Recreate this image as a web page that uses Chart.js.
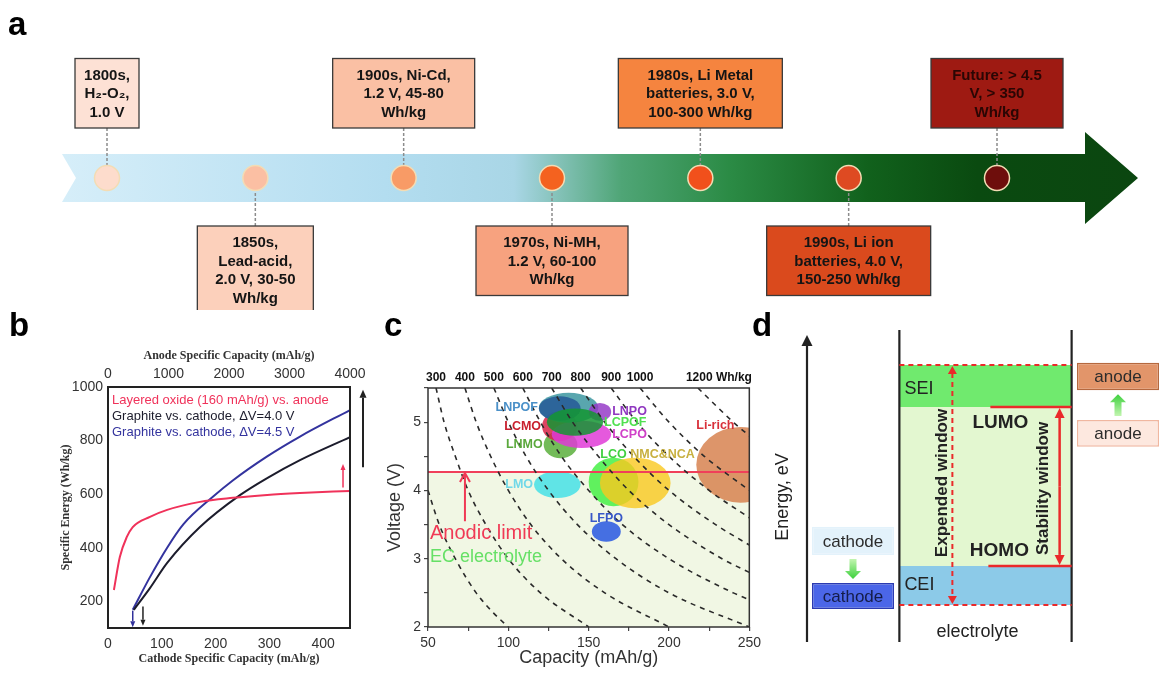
<!DOCTYPE html>
<html lang="en">
<head>
<meta charset="utf-8">
<title>Battery development overview</title>
<script src="https://cdn.jsdelivr.net/npm/chart.js@4.4.1/dist/chart.umd.min.js"></script>
<style>
  html, body { margin: 0; padding: 0; background: #fff; }
  body { position: relative; width: 1164px; height: 675px; overflow: hidden; }
  canvas { position: absolute; }
  .tag { position: absolute; font: bold 33px/33px "Liberation Sans", Arial, sans-serif; color: #000; }
</style>
</head>
<body>
<canvas id="chartA" width="1164" height="310" style="left:0;top:0"></canvas>
<canvas id="chartB" width="380" height="365" style="left:0;top:310px"></canvas>
<canvas id="chartC" width="385" height="365" style="left:380px;top:310px"></canvas>
<canvas id="chartD" width="399" height="365" style="left:765px;top:310px"></canvas>
<div class="tag" style="left:8px;top:7px">a</div>
<div class="tag" style="left:9px;top:308px">b</div>
<div class="tag" style="left:384px;top:308px">c</div>
<div class="tag" style="left:752px;top:308px">d</div>
<script>
const SANS = '"Liberation Sans", Arial, sans-serif';
const SERIF = '"Liberation Serif", "Times New Roman", serif';

// ---------- panel a : timeline data ----------
const eras = ['1800s', '1850s', '1900s', '1970s', '1980s', '1990s', 'Future'];
const eraNotes = [
  ['1800s,', 'H₂-O₂,', '1.0 V'],
  ['1850s,', 'Lead-acid,', '2.0 V, 30-50', 'Wh/kg'],
  ['1900s, Ni-Cd,', '1.2 V, 45-80', 'Wh/kg'],
  ['1970s, Ni-MH,', '1.2 V, 60-100', 'Wh/kg'],
  ['1980s, Li Metal', 'batteries, 3.0 V,', '100-300 Wh/kg'],
  ['1990s, Li ion', 'batteries, 4.0 V,', '150-250 Wh/kg'],
  ['Future: > 4.5', 'V, > 350', 'Wh/kg']
];
const eraLevel = [0, 0, 0, 0, 0, 0, 0]; // every milestone sits on the arrow

// ---------- panel b : specific energy data ----------
const layeredCap = [11, 22, 35, 46, 78, 110, 171, 232, 296, 357, 450];
const layeredEnergy = [242, 365, 440, 477, 515, 541, 571, 586, 597, 604, 612];
const graphite40Cap = [48, 78, 110, 171, 246, 296, 357, 450];
const graphite40Energy = [168, 249, 343, 477, 597, 660, 727, 813];
const graphite45Cap = [46, 78, 110, 140, 195, 232, 296, 357, 450];
const graphite45Energy = [168, 290, 400, 487, 590, 651, 741, 815, 914];
const dropArrows = [[46, 165, 103], [65, 180, 108], [437, 625, 712]]; // [capacity, from, to]
const bigArrow = [700, 990];

// ---------- panel c : cathode map data ----------
const contourEnergy = [200, 300, 400, 500, 600, 700, 800, 900, 1000, 1200];
const contourCap = [
  [50, 57, 67, 80, 91, 100],
  [55, 60, 67, 75, 86, 100, 120, 150],
  [73, 80, 89, 100, 114, 133, 160, 200],
  [91, 100, 111, 125, 143, 167, 200, 250],
  [109, 120, 133, 150, 171, 200, 240, 250],
  [127, 140, 156, 175, 200, 233, 250],
  [145, 160, 178, 200, 229, 250],
  [164, 180, 200, 225, 250],
  [182, 200, 222, 250],
  [218, 240, 250]
];
const contourVolt = [
  [4.0, 3.5, 3.0, 2.5, 2.2, 2.0],
  [5.5, 5.0, 4.5, 4.0, 3.5, 3.0, 2.5, 2.0],
  [5.5, 5.0, 4.5, 4.0, 3.5, 3.0, 2.5, 2.0],
  [5.5, 5.0, 4.5, 4.0, 3.5, 3.0, 2.5, 2.0],
  [5.5, 5.0, 4.5, 4.0, 3.5, 3.0, 2.5, 2.4],
  [5.5, 5.0, 4.5, 4.0, 3.5, 3.0, 2.8],
  [5.5, 5.0, 4.5, 4.0, 3.5, 3.2],
  [5.5, 5.0, 4.5, 4.0, 3.6],
  [5.5, 5.0, 4.5, 4.0],
  [5.5, 5.0, 4.8]
];
const materials = ['LMO', 'LFPO', 'LCO', 'NMC&NCA', 'Li-rich', 'LNMO', 'LCMO', 'LCPO', 'LNPOF', '', 'LNPO', 'LCPOF'];
const capMin = [116, 152, 150, 157, 217, 122, 121, 127, 119, 119, 150, 124];
const capMax = [145, 170, 181, 201, 272, 143, 143, 164, 156, 145, 164, 159];
const voltMin = [3.89, 3.25, 3.77, 3.74, 3.82, 4.47, 4.72, 4.62, 4.99, 5.02, 5.02, 4.80];
const voltMax = [4.28, 3.55, 4.48, 4.48, 4.93, 4.87, 5.16, 5.02, 5.43, 5.38, 5.28, 5.20];
const anodicLimit = 4.27;
const anodicArrow = [73, 3.55]; // capacity, start voltage

// ---------- panel d : energy levels ----------
const dColumns = ['cathode', 'electrolyte', 'anode'];
const electrodeBefore = [[2.74, 3.65], null, [6.23, 7.10]];
const electrodeAfter = [[1.0, 1.84], null, [8.06, 8.94]];
const seiLayer = [null, [7.52, 8.87], null];
const stableWindow = [null, [2.39, 7.52], null];
const ceiLayer = [null, [1.13, 2.39], null];

// ---------- styles ----------
const dotColors = ['#fddccc', '#fbbfa3', '#f89b66', '#f4621f', '#f1501c', '#de4a22', '#6e0e0c'];
const boxColors = ['#fde1d5', '#fcd0bb', '#fac0a4', '#f7a27f', '#f5843f', '#da4a1d', '#9e1a12'];
const boxWidths = [64, 116, 142, 152, 164, 164, 132];
const arrowStops = [[0, '#d6eef9'], [0.3, '#b3ddf0'], [0.42, '#a9d6e6'], [0.52, '#4fa576'],
  [0.62, '#2b8b45'], [0.75, '#11611c'], [0.85, '#0a4a10'], [1, '#0b4610']];
const matFill = ['rgba(70,225,230,0.85)', 'rgba(50,95,225,0.9)', 'rgba(70,240,70,0.85)', 'rgba(250,200,30,0.8)',
  'rgba(215,130,80,0.85)', 'rgba(90,175,60,0.85)', 'rgba(215,35,70,0.85)', 'rgba(225,60,215,0.85)',
  'rgba(60,150,160,0.85)', 'rgba(35,85,150,0.8)', 'rgba(150,60,200,0.85)', 'rgba(20,150,50,0.85)'];
const matText = ['#70d8e8', '#3858c8', '#40d040', '#c8b040', '#d8303a', '#5aa83c', '#c8202e', '#d040c8',
  '#4a90c8', '', '#9038c0', '#50e050'];
const matLabelPos = ['left', 'top', 'top', 'topright', 'topleft', 'left', 'left', 'right', 'left', 'none', 'right', 'right'];

Chart.defaults.font.family = SANS;
Chart.defaults.font.size = 14;
Chart.defaults.color = '#333';
Chart.defaults.animation = false;
Chart.defaults.plugins.legend.display = false;
Chart.defaults.plugins.tooltip.enabled = false;

function drawArrow(ctx, x, y0, y1, color, lw, hw, hl) {
  const dir = y1 < y0 ? -1 : 1;
  ctx.strokeStyle = color;
  ctx.fillStyle = color;
  ctx.lineWidth = lw;
  ctx.beginPath();
  ctx.moveTo(x, y0);
  ctx.lineTo(x, y1 - dir * hl);
  ctx.stroke();
  ctx.beginPath();
  ctx.moveTo(x, y1);
  ctx.lineTo(x - hw, y1 - dir * hl);
  ctx.lineTo(x + hw, y1 - dir * hl);
  ctx.closePath();
  ctx.fill();
}

function rotatedText(ctx, text, x, y) {
  ctx.save();
  ctx.translate(x, y);
  ctx.rotate(-Math.PI / 2);
  ctx.fillText(text, 0, 0);
  ctx.restore();
}

// ---------- panel a ----------
const timelinePlugin = {
  id: 'timeline',
  beforeDatasetsDraw(chart) {
    const { ctx, chartArea: a, scales: { y } } = chart;
    const cy = y.getPixelForValue(0);
    const x0 = a.left - 45, x1 = a.right + 88, tip = a.right + 141;
    const g = ctx.createLinearGradient(x0, 0, tip, 0);
    arrowStops.forEach(([p, c]) => g.addColorStop(p, c));
    ctx.save();
    ctx.beginPath();
    ctx.moveTo(x0, cy - 24);
    ctx.lineTo(x1, cy - 24);
    ctx.lineTo(x1, cy - 46);
    ctx.lineTo(tip, cy);
    ctx.lineTo(x1, cy + 46);
    ctx.lineTo(x1, cy + 24);
    ctx.lineTo(x0, cy + 24);
    ctx.lineTo(x0 + 14, cy);
    ctx.closePath();
    ctx.fillStyle = g;
    ctx.fill();

    ctx.font = 'bold 15px ' + SANS;
    ctx.textAlign = 'center';
    ctx.textBaseline = 'middle';
    chart.getDatasetMeta(0).data.forEach((pt, i) => {
      const up = i % 2 === 0;
      const lines = eraNotes[i];
      const w = boxWidths[i], h = 14 + lines.length * 18.5;
      const bx = pt.x - w / 2;
      const by = up ? pt.y - 50 - h : pt.y + 48;
      ctx.setLineDash([3, 2]);
      ctx.strokeStyle = '#8c8c8c';
      ctx.lineWidth = 1.5;
      ctx.beginPath();
      ctx.moveTo(pt.x, up ? by + h : by);
      ctx.lineTo(pt.x, pt.y);
      ctx.stroke();
      ctx.setLineDash([]);
      ctx.fillStyle = boxColors[i];
      ctx.fillRect(bx, by, w, h);
      ctx.strokeStyle = '#3a3a3a';
      ctx.lineWidth = 1.3;
      ctx.strokeRect(bx, by, w, h);
      ctx.fillStyle = i === 6 ? '#2a0604' : '#151515';
      lines.forEach((t, k) => ctx.fillText(t, pt.x, by + 8 + 18.5 * (k + 0.5)));
    });
    ctx.restore();
  }
};

new Chart(document.getElementById('chartA'), {
  type: 'line',
  data: {
    labels: eras,
    datasets: [{
      data: eraLevel,
      showLine: false,
      pointRadius: 12.5,
      pointBackgroundColor: dotColors,
      pointBorderColor: '#f3dcb4',
      pointBorderWidth: 1.5,
      clip: false
    }]
  },
  options: {
    responsive: false,
    layout: { padding: { left: 107, right: 167, top: 60, bottom: 10 } },
    scales: { x: { display: false }, y: { display: false, min: -1, max: 1 } }
  },
  plugins: [timelinePlugin]
});

// ---------- panel b ----------
const panelBPlugin = {
  id: 'panelB',
  afterDatasetsDraw(chart) {
    const { ctx, chartArea: a, scales: { x, y } } = chart;
    ctx.save();
    ctx.strokeStyle = '#222';
    ctx.lineWidth = 2;
    ctx.strokeRect(a.left, a.top, a.right - a.left, a.bottom - a.top);
    ctx.font = '13px ' + SANS;
    ctx.textBaseline = 'middle';
    chart.data.datasets.forEach((ds, i) => {
      ctx.fillStyle = ds.borderColor;
      ctx.fillText(ds.label, a.left + 4, a.top + 13 + i * 16);
    });
    const arrowColors = ['#30309a', '#222', '#f0325a'];
    dropArrows.forEach(([c, from, to], i) => {
      drawArrow(ctx, x.getPixelForValue(c), y.getPixelForValue(from), y.getPixelForValue(to), arrowColors[i], 1.5, 2.5, 6);
    });
    drawArrow(ctx, a.right + 13, y.getPixelForValue(bigArrow[0]), y.getPixelForValue(bigArrow[1]), '#222', 2, 3.5, 8);
    ctx.restore();
  }
};

const serifTitle = { family: SERIF, weight: 'bold', size: 12 };
new Chart(document.getElementById('chartB'), {
  type: 'line',
  data: {
    datasets: [
      { label: 'Layered oxide (160 mAh/g) vs. anode', data: layeredCap.map((c, i) => ({ x: c, y: layeredEnergy[i] })), borderColor: '#f0325a' },
      { label: 'Graphite vs. cathode, ΔV=4.0 V', data: graphite40Cap.map((c, i) => ({ x: c, y: graphite40Energy[i] })), borderColor: '#1c1c2c' },
      { label: 'Graphite vs. cathode, ΔV=4.5 V', data: graphite45Cap.map((c, i) => ({ x: c, y: graphite45Energy[i] })), borderColor: '#33339e' }
    ]
  },
  options: {
    responsive: false,
    layout: { padding: { left: 55, right: 30, top: 35, bottom: 5 } },
    elements: { point: { radius: 0 }, line: { borderWidth: 2, cubicInterpolationMode: 'monotone', fill: false } },
    scales: {
      x: {
        type: 'linear', position: 'bottom', min: 0, max: 450,
        ticks: { stepSize: 100, padding: 8, autoSkip: false, includeBounds: false, maxRotation: 0, callback: v => String(v) },
        grid: { display: false, drawTicks: false }, border: { display: false },
        title: { display: true, text: 'Cathode Specific Capacity (mAh/g)', font: serifTitle, color: '#333' },
        afterFit(s) { s.height = 42; }
      },
      x2: {
        type: 'linear', position: 'top', min: 0, max: 4000,
        ticks: { stepSize: 1000, padding: 4, autoSkip: false, maxRotation: 0, callback: v => String(v) },
        grid: { display: false, drawTicks: false }, border: { display: false },
        title: { display: true, text: 'Anode Specific Capacity (mAh/g)', font: serifTitle, color: '#333' },
        afterFit(s) { s.height = 42; }
      },
      y: {
        min: 100, max: 1000,
        ticks: { stepSize: 200, padding: 5, autoSkip: false, includeBounds: false, callback: v => v % 200 === 0 ? String(v) : '' },
        grid: { display: false, drawTicks: false }, border: { display: false },
        title: { display: true, text: 'Specific Energy (Wh/kg)', font: serifTitle, color: '#333' },
        afterFit(s) { s.width = 53; }
      }
    }
  },
  plugins: [panelBPlugin]
});

// ---------- panel c ----------
const panelCPlugin = {
  id: 'panelC',
  beforeDatasetsDraw(chart) {
    const { ctx, chartArea: a, scales: { x, y } } = chart;
    ctx.save();
    const yl = y.getPixelForValue(anodicLimit);
    ctx.fillStyle = '#f1f7e4';
    ctx.fillRect(a.left, yl, a.right - a.left, a.bottom - yl);
    ctx.beginPath();
    ctx.rect(a.left, a.top, a.right - a.left, a.bottom - a.top);
    ctx.clip();
    materials.forEach((m, i) => {
      const x0 = x.getPixelForValue(capMin[i]), x1 = x.getPixelForValue(capMax[i]);
      const y0 = y.getPixelForValue(voltMax[i]), y1 = y.getPixelForValue(voltMin[i]);
      ctx.beginPath();
      ctx.ellipse((x0 + x1) / 2, (y0 + y1) / 2, (x1 - x0) / 2, (y1 - y0) / 2, 0, 0, Math.PI * 2);
      ctx.fillStyle = matFill[i];
      ctx.fill();
    });
    ctx.restore();
  },
  afterDatasetsDraw(chart) {
    const { ctx, chartArea: a, scales: { x, y } } = chart;
    ctx.save();
    // material names
    ctx.font = 'bold 12.5px ' + SANS;
    ctx.textBaseline = 'middle';
    materials.forEach((m, i) => {
      const pos = matLabelPos[i];
      if (pos === 'none') return;
      const x0 = x.getPixelForValue(capMin[i]), x1 = x.getPixelForValue(capMax[i]);
      const y0 = y.getPixelForValue(voltMax[i]), y1 = y.getPixelForValue(voltMin[i]);
      ctx.fillStyle = matText[i];
      if (pos === 'left') { ctx.textAlign = 'right'; ctx.fillText(m, x0 - 1, (y0 + y1) / 2); }
      else if (pos === 'right') { ctx.textAlign = 'left'; ctx.fillText(m, x1 + 1, (y0 + y1) / 2); }
      else if (pos === 'topleft') { ctx.textAlign = 'left'; ctx.fillText(m, x0, y0 - 1); }
      else if (pos === 'topright') { ctx.textAlign = 'left'; ctx.fillText(m, (x0 + x1) / 2 - 5, y0 - 3); }
      else { ctx.textAlign = 'center'; ctx.fillText(m, (x0 + x1) / 2, y0 - 3); }
    });
    // anodic limit arrow and caption
    const ax = x.getPixelForValue(anodicArrow[0]);
    const ay0 = y.getPixelForValue(anodicArrow[1]), ay1 = y.getPixelForValue(anodicLimit);
    ctx.strokeStyle = '#f03a55';
    ctx.lineWidth = 2;
    ctx.beginPath();
    ctx.moveTo(ax, ay0); ctx.lineTo(ax, ay1 + 1);
    ctx.moveTo(ax - 5, ay1 + 10); ctx.lineTo(ax, ay1 + 1); ctx.lineTo(ax + 5, ay1 + 10);
    ctx.stroke();
    ctx.textAlign = 'left';
    ctx.font = '20px ' + SANS;
    ctx.fillStyle = '#f03a55';
    ctx.fillText('Anodic limit', a.left + 2, ay0 + 12);
    ctx.font = '18px ' + SANS;
    ctx.fillStyle = '#66e066';
    ctx.fillText('EC electrolyte', a.left + 2, ay0 + 36);
    // energy labels on top
    ctx.font = 'bold 12px ' + SANS;
    ctx.fillStyle = '#111';
    contourEnergy.forEach((e, i) => {
      if (contourVolt[i][0] < 5.5) return;
      const px = x.getPixelForValue(contourCap[i][0]);
      if (i === contourEnergy.length - 1) { ctx.textAlign = 'left'; ctx.fillText(e + ' Wh/kg', px - 12, a.top - 10); }
      else { ctx.textAlign = 'center'; ctx.fillText(String(e), px, a.top - 10); }
    });
    ctx.strokeStyle = '#333';
    ctx.lineWidth = 1.5;
    ctx.strokeRect(a.left, a.top, a.right - a.left, a.bottom - a.top);
    ctx.restore();
  }
};

const contourSets = contourEnergy.map((e, i) => ({
  label: e + ' Wh/kg',
  data: contourCap[i].map((q, k) => ({ x: q, y: contourVolt[i][k] })),
  borderColor: '#2a2a2a',
  borderWidth: 1.6,
  borderDash: [5, 5]
}));
contourSets.push({
  label: 'Anodic limit',
  data: [{ x: 50, y: anodicLimit }, { x: 250, y: anodicLimit }],
  borderColor: '#f0405a',
  borderWidth: 2
});

const tickGrid = { display: true, drawOnChartArea: false, drawTicks: true, tickLength: 4, color: '#444', lineWidth: 1.2 };
new Chart(document.getElementById('chartC'), {
  type: 'line',
  data: { datasets: contourSets },
  options: {
    responsive: false,
    layout: { padding: { left: 0, right: 13, top: 78, bottom: 2 } },
    elements: { point: { radius: 0 }, line: { cubicInterpolationMode: 'monotone', fill: false } },
    scales: {
      x: {
        type: 'linear', min: 50, max: 250,
        ticks: { stepSize: 25, padding: 4, autoSkip: false, maxRotation: 0, callback: v => v % 50 === 0 ? String(v) : '' },
        grid: tickGrid, border: { display: false },
        title: { display: true, text: 'Capacity (mAh/g)', font: { size: 18 }, color: '#333' },
        afterFit(s) { s.height = 46; }
      },
      y: {
        min: 2, max: 5.5,
        ticks: { stepSize: 0.5, padding: 3, autoSkip: false, callback: v => Number.isInteger(v) ? String(v) : '' },
        grid: tickGrid, border: { display: false },
        title: { display: true, text: 'Voltage (V)', font: { size: 18 }, color: '#333' },
        afterFit(s) { s.width = 48; }
      }
    }
  },
  plugins: [panelCPlugin]
});

// ---------- panel d ----------
function greenArrow(ctx, x, from, to) {
  const dir = to < from ? -1 : 1;
  const head = 8;
  const g = ctx.createLinearGradient(0, from, 0, to);
  g.addColorStop(0, '#c2f5b0');
  g.addColorStop(1, '#3cd03c');
  ctx.fillStyle = g;
  ctx.beginPath();
  ctx.moveTo(x - 3.5, from);
  ctx.lineTo(x + 3.5, from);
  ctx.lineTo(x + 3.5, to - dir * head);
  ctx.lineTo(x + 8, to - dir * head);
  ctx.lineTo(x, to);
  ctx.lineTo(x - 8, to - dir * head);
  ctx.lineTo(x - 3.5, to - dir * head);
  ctx.closePath();
  ctx.fill();
}

const panelDPlugin = {
  id: 'panelD',
  afterDatasetsDraw(chart) {
    const { ctx, chartArea: a, scales: { y } } = chart;
    const band = chart.getDatasetMeta(0).data[1];
    const L = band.x - band.width / 2, R = band.x + band.width / 2;
    const yHi = y.getPixelForValue(seiLayer[1][1]);
    const yLumo = y.getPixelForValue(stableWindow[1][1]);
    const yHomo = y.getPixelForValue(stableWindow[1][0]);
    const yLo = y.getPixelForValue(ceiLayer[1][0]);
    const red = '#ea2a2a';
    ctx.save();
    // walls and energy axis
    ctx.strokeStyle = '#222';
    ctx.lineWidth = 2.2;
    [L, R].forEach(px => { ctx.beginPath(); ctx.moveTo(px, a.top); ctx.lineTo(px, a.bottom + 2); ctx.stroke(); });
    const ex = a.left - 46;
    drawArrow(ctx, ex, a.bottom + 2, a.top + 5, '#222', 2.2, 5.5, 11);
    // expanded window
    ctx.strokeStyle = red;
    ctx.lineWidth = 2;
    ctx.setLineDash([5, 4]);
    [yHi, yLo].forEach(py => { ctx.beginPath(); ctx.moveTo(L, py); ctx.lineTo(R, py); ctx.stroke(); });
    const wx = L + 53;
    ctx.beginPath(); ctx.moveTo(wx, yHi + 8); ctx.lineTo(wx, yLo - 8); ctx.stroke();
    ctx.setLineDash([]);
    drawArrow(ctx, wx, yHi + 9, yHi + 1, red, 2, 4.5, 8);
    drawArrow(ctx, wx, yLo - 9, yLo - 1, red, 2, 4.5, 8);
    // LUMO / HOMO and stability window
    ctx.strokeStyle = red;
    ctx.lineWidth = 2.5;
    ctx.beginPath();
    ctx.moveTo(L + 91, yLumo); ctx.lineTo(R, yLumo);
    ctx.moveTo(L + 89, yHomo); ctx.lineTo(R, yHomo);
    ctx.stroke();
    const sx = R - 12;
    drawArrow(ctx, sx, (yLumo + yHomo) / 2, yLumo + 1, red, 2.5, 5, 10);
    drawArrow(ctx, sx, (yLumo + yHomo) / 2, yHomo - 1, red, 2.5, 5, 10);
    // texts
    ctx.fillStyle = '#222';
    ctx.textBaseline = 'middle';
    ctx.font = '18px ' + SANS;
    ctx.textAlign = 'left';
    ctx.fillText('SEI', L + 5, (yHi + yLumo) / 2 + 3);
    ctx.fillText('CEI', L + 5, (yHomo + yLo) / 2);
    ctx.textAlign = 'center';
    ctx.fillText(dColumns[1], band.x - 8, a.bottom - 8);
    rotatedText(ctx, 'Energy, eV', ex - 24, (a.top + a.bottom) / 2 + 12);
    ctx.font = 'bold 19px ' + SANS;
    ctx.fillText('LUMO', L + 101, yLumo + 16);
    ctx.fillText('HOMO', L + 100, yHomo - 15);
    ctx.font = 'bold 17px ' + SANS;
    rotatedText(ctx, 'Expended window', L + 43, (yHi + yLo) / 2 - 2);
    rotatedText(ctx, 'Stability window', R - 28, (yLumo + yHomo) / 2 + 2);
    // electrode labels and shift arrows
    ctx.font = '17px ' + SANS;
    [3, 4].forEach(di => {
      const meta = chart.getDatasetMeta(di);
      [0, 2].forEach(i => {
        const el = meta.data[i];
        ctx.fillStyle = (di === 4 && i === 0) ? '#141c48' : '#2c2c2c';
        ctx.fillText(dColumns[i], el.x, (el.y + el.base) / 2 + 1);
      });
    });
    const before = chart.getDatasetMeta(3).data, after = chart.getDatasetMeta(4).data;
    const cB = Math.max(before[0].y, before[0].base), cA = Math.min(after[0].y, after[0].base);
    greenArrow(ctx, before[0].x, cB + 4, cA - 4);
    const aB = Math.min(before[2].y, before[2].base), aA = Math.max(after[2].y, after[2].base);
    greenArrow(ctx, before[2].x, aB - 4, aA + 4);
    ctx.restore();
  }
};

new Chart(document.getElementById('chartD'), {
  type: 'bar',
  data: {
    labels: dColumns,
    datasets: [
      { label: 'SEI', data: seiLayer, backgroundColor: '#70ea6e', barPercentage: 1.3 },
      { label: 'Stability window', data: stableWindow, backgroundColor: '#e3f7d0', barPercentage: 1.3 },
      { label: 'CEI', data: ceiLayer, backgroundColor: '#8ccae8', barPercentage: 1.3 },
      { label: 'Electrode (before)', data: electrodeBefore, backgroundColor: ['#e3f2fb', 'transparent', '#fde8df'],
        borderColor: ['#e3f2fb', 'transparent', '#f0b7a0'], borderWidth: 1.5, barPercentage: 0.62 },
      { label: 'Electrode (after)', data: electrodeAfter, backgroundColor: ['#4b66e8', 'transparent', '#e2956a'],
        borderColor: ['#2b3ab0', 'transparent', '#b5683e'], borderWidth: 1.5, barPercentage: 0.62 }
    ]
  },
  options: {
    responsive: false,
    layout: { padding: { left: 88, right: 46, top: 20, bottom: 35 } },
    datasets: { bar: { grouped: false, categoryPercentage: 1, borderSkipped: false, clip: false } },
    scales: {
      x: { display: false, offset: false },
      y: { display: false, min: 0, max: 10 }
    }
  },
  plugins: [panelDPlugin]
});
</script>
</body>
</html>
